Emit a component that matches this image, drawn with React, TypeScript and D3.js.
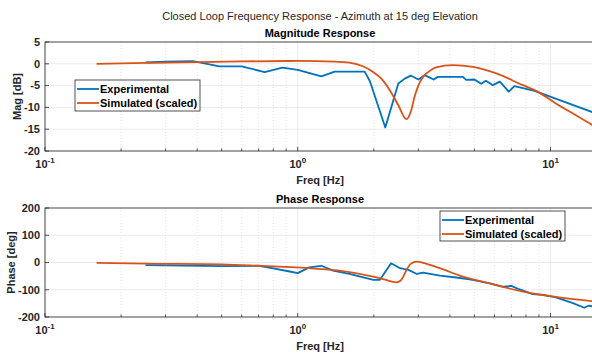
import React from 'react';
import * as d3 from 'd3';

// Magnitude response [Hz, dB]
const magExpFreq = [0.25, 0.3, 0.385, 0.49, 0.6, 0.74, 0.87, 1.0, 1.24, 1.4, 1.84, 1.93, 2.22, 2.5, 2.65, 2.8, 3.0, 3.18, 3.45, 3.58, 4.5, 4.64, 5.0, 5.32, 5.55, 5.92, 6.3, 6.84, 7.2, 8.65, 15.0];
const magExpDb = [0.3, 0.5, 0.6, -0.6, -0.6, -1.9, -0.9, -1.4, -2.9, -1.8, -1.8, -4.0, -14.6, -4.5, -3.4, -2.7, -3.6, -2.6, -3.6, -3.0, -3.0, -3.7, -3.6, -4.6, -3.9, -4.9, -4.1, -6.4, -5.1, -6.2, -11.3];
const magSimFreq = [0.16, 0.25, 0.4, 0.6, 1.0, 1.4, 1.6, 1.8, 1.98, 2.15, 2.31, 2.5, 2.69, 2.8, 2.9, 3.0, 3.13, 3.3, 3.53, 4.1, 4.93, 6.1, 7.78, 8.78, 10.5, 12.6, 15.0];
const magSimDb = [0.0, 0.2, 0.4, 0.55, 0.65, 0.5, 0.25, -0.5, -1.8, -3.5, -6.0, -9.5, -12.7, -11.0, -7.5, -5.0, -3.0, -1.8, -0.8, -0.3, -0.7, -2.2, -4.9, -6.2, -9.1, -11.8, -14.4];

// Phase response [Hz, deg]
const phExpFreq = [0.25, 0.5, 0.7, 0.79, 0.93, 1.0, 1.11, 1.24, 1.38, 1.6, 1.99, 2.11, 2.34, 2.54, 2.74, 2.96, 3.13, 3.65, 4.24, 4.79, 5.7, 6.5, 7.0, 7.5, 8.5, 9.3, 10.5, 12.2, 13.6, 14.2, 15.0];
const phExpDeg = [-10, -13, -12, -21, -33, -39, -18, -12, -30, -42, -64, -64, -3, -21, -27, -42, -37, -48, -55, -62, -76, -89, -86, -98, -116, -119, -128, -148, -166, -158, -163];
const phSimFreq = [0.16, 0.25, 0.5, 0.7, 0.93, 1.11, 1.46, 1.99, 2.2, 2.45, 2.55, 2.62, 2.69, 2.8, 2.96, 3.13, 3.65, 4.5, 5.7, 7.78, 10.5, 15.0];
const phSimDeg = [-1, -4, -7, -12, -17, -21, -30, -52, -62, -73, -67, -50, -28, -5, 3, -1, -21, -52, -76, -107, -126, -143];

const magTicks = [5, 0, -5, -10, -15, -20];
const phaseTicks = [200, 100, 0, -100, -200];
const decades = [0.1, 1, 10];
const legendLabels = ['Experimental', 'Simulated (scaled)'];

const BLUE = '#0072BD';
const ORANGE = '#D95319';
const FONT = '"Liberation Sans", Arial, Helvetica, sans-serif';

const W = 592;
const H = 357;
const left = 45;
const right = 595;

const x = d3.scaleLog().domain([0.1, 15]).range([left, right]);
const minorTicks: number[] = [];
[0.1, 1, 10].forEach(d => {
  for (let k = 2; k <= 9; k++) if (d * k <= 15) minorTicks.push(d * k);
});

type Series = { f: number[]; v: number[]; color: string };

const Panel = ({ top, bottom, domain, ticks, ylabel, labelX, title, series, legend, id }: {
  top: number; bottom: number; domain: [number, number]; ticks: number[]; ylabel: string; labelX: number; title: string;
  series: Series[]; legend: { x: number; y: number; w: number; h: number }; id: string;
}) => {
  const y = d3.scaleLinear().domain(domain).range([bottom, top]);
  const line = d3.line<[number, number]>()
    .x(d => x(d[0]))
    .y(d => y(d[1]));
  const smooth = d3.line<[number, number]>()
    .x(d => x(d[0]))
    .y(d => y(d[1]))
    .curve(d3.curveMonotoneX);
  return (
    <g>
      <defs>
        <clipPath id={id}>
          <rect x={left} y={top} width={right - left} height={bottom - top} />
        </clipPath>
      </defs>
      <rect x={left} y={top} width={right - left} height={bottom - top} fill="#fff" />
      {/* minor grid */}
      {minorTicks.map(t => (
        <line key={'m' + t} x1={x(t)} x2={x(t)} y1={top} y2={bottom} stroke="#dcdcdc" strokeDasharray="1,2" strokeWidth={0.8} />
      ))}
      {/* major grid */}
      {decades.map(t => (
        <line key={'d' + t} x1={x(t)} x2={x(t)} y1={top} y2={bottom} stroke="#e6e6e6" strokeWidth={0.8} />
      ))}
      {ticks.map(t => (
        <line key={'y' + t} x1={left} x2={right} y1={y(t)} y2={y(t)} stroke="#e6e6e6" strokeWidth={0.8} />
      ))}
      {/* series */}
      <g clipPath={`url(#${id})`}>
        {series.map((s, i) => (
          <path key={i} d={(i === 0 ? line : smooth)(s.f.map((f, j) => [f, s.v[j]] as [number, number])) || ''}
            fill="none" stroke={s.color} strokeWidth={1.8} strokeLinejoin="round" />
        ))}
      </g>
      {/* box and ticks */}
      <rect x={left} y={top} width={right - left} height={bottom - top} fill="none" stroke="#262626" strokeWidth={0.8} />
      {ticks.map(t => (
        <g key={'yt' + t}>
          <line x1={left} x2={left + 4} y1={y(t)} y2={y(t)} stroke="#262626" strokeWidth={0.8} />
          <text x={left - 5} y={y(t)} dy="0.35em" textAnchor="end" fontSize={11} fontWeight="bold" fill="#262626" fontFamily={FONT}>{t}</text>
        </g>
      ))}
      {decades.map(t => (
        <g key={'xt' + t}>
          <line x1={x(t)} x2={x(t)} y1={bottom} y2={bottom - 4} stroke="#262626" strokeWidth={0.8} />
          <text x={x(t)} y={bottom + 17} textAnchor="middle" fontSize={11} fontWeight="bold" fill="#262626" fontFamily={FONT}>
            10<tspan dy={-5} fontSize={8}>{Math.round(Math.log10(t))}</tspan>
          </text>
        </g>
      ))}
      {minorTicks.map(t => (
        <line key={'mt' + t} x1={x(t)} x2={x(t)} y1={bottom} y2={bottom - 2.5} stroke="#262626" strokeWidth={0.8} />
      ))}
      <text x={320} y={bottom + 33} textAnchor="middle" fontSize={11} fontWeight="bold" fill="#262626" fontFamily={FONT}>Freq [Hz]</text>
      <text transform={`translate(${labelX},${(top + bottom) / 2}) rotate(-90)`} textAnchor="middle" dy="0.35em"
        fontSize={11} fontWeight="bold" fill="#262626" fontFamily={FONT}>{ylabel}</text>
      <text x={320} y={top - 5} textAnchor="middle" fontSize={11} fontWeight="bold" fill="#000" fontFamily={FONT}>{title}</text>
      {/* legend */}
      <rect x={legend.x} y={legend.y} width={legend.w} height={legend.h} fill="#fff" stroke="#262626" strokeWidth={0.8} />
      {legendLabels.map((lab, i) => {
        const ly = legend.y + 9 + i * 14;
        return (
          <g key={lab}>
            <line x1={legend.x + 2} x2={legend.x + 24} y1={ly} y2={ly} stroke={series[i].color} strokeWidth={1.8} />
            <text x={legend.x + 25} y={ly} dy="0.35em" fontSize={11} fontWeight="bold" fill="#000" fontFamily={FONT}>{lab}</text>
          </g>
        );
      })}
    </g>
  );
};

export default function App() {
  return (
    <svg width={W} height={H} style={{ position: 'absolute', left: 0, top: 0, background: '#fff' }}>
      <rect width={W} height={H} fill="#fff" />
      <text x={320} y={20} textAnchor="middle" fontSize={11} fill="#262626" fontFamily={FONT}>
        Closed Loop Frequency Response - Azimuth at 15 deg Elevation
      </text>
      <Panel id="clipMag" top={42} bottom={151} domain={[-20, 5]} ticks={magTicks} ylabel="Mag [dB]" labelX={17} title="Magnitude Response"
        series={[{ f: magExpFreq, v: magExpDb, color: BLUE }, { f: magSimFreq, v: magSimDb, color: ORANGE }]}
        legend={{ x: 75, y: 80, w: 125, h: 31 }} />
      <Panel id="clipPh" top={208} bottom={317} domain={[-200, 200]} ticks={phaseTicks} ylabel="Phase [deg]" labelX={11} title="Phase Response"
        series={[{ f: phExpFreq, v: phExpDeg, color: BLUE }, { f: phSimFreq, v: phSimDeg, color: ORANGE }]}
        legend={{ x: 440, y: 211, w: 125, h: 30 }} />
    </svg>
  );
}
